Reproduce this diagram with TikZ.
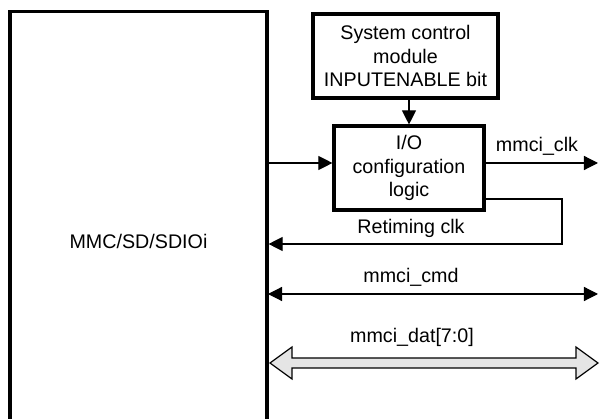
\documentclass[tikz,border=0pt]{standalone}
\usepackage{fontspec}
\setmainfont{Liberation Sans}
\usetikzlibrary{arrows.meta, positioning, calc}

\begin{document}
\begin{tikzpicture}[
    x=0.025cm, y=-0.025cm,
    font=\fontsize{14}{16.5}\selectfont,
    block/.style={rectangle, draw, line width=2.2pt, align=center, inner sep=0pt},
    wire/.style={line width=0.85pt, -{Triangle[length=10pt, width=10pt]}},
    biwire/.style={line width=0.85pt, {Triangle[length=10pt, width=10pt]}-{Triangle[length=10pt, width=10pt]}},
    bus/.style={line width=0.85pt, draw, fill=black!10, line join=miter}
]
\useasboundingbox (0,0) rectangle (600,419);

% blocks
\node[block, minimum width=6.425cm, minimum height=11.45cm] (mmc) at (138.5,241) {MMC/SD/SDIOi};
\node[block, minimum width=4.625cm, minimum height=2.1cm] (sys) at (405.5,56)
    {System control\\module\\INPUTENABLE bit};
\node[block, minimum width=3.75cm, minimum height=2.1cm] (io) at (409,168)
    {I/O\\configuration\\logic};

% free ends
\coordinate (clkR) at (598,163);
\coordinate (rt) at (562,244);
\coordinate (cmdL) at (268,294);
\coordinate (cmdR) at (598,294);
\coordinate (datL) at (270,363);
\coordinate (datR) at (598,363);

% connectors
\draw[wire] (io.north |- sys.south) -- (io.north);
\draw[wire] ($(mmc.east |- io.west)+(0,-5)$) -- ($(io.west)+(0,-5)$);
\draw[wire] ($(io.east)+(0,-5)$) -- (clkR);
\draw[wire] ($(io.east)+(0,31)$) -| (rt) -- (mmc.east |- rt);
\draw[biwire] (cmdL) -- (cmdR);
\draw[bus] (datL) -- ++(22,-16) -- ++(0,11) -- ($(datR)+(-22,-5)$) -- ++(0,-11) -- (datR)
    -- ++(-22,16) -- ++(0,-11) -- ($(datL)+(22,5)$) -- ++(0,11) -- cycle;

% labels
\node (clklbl) at (537,146) {mmci\_clk};
\node (rtlbl) at (411,228) {Retiming clk};
\node (cmdlbl) at (411,277) {mmci\_cmd};
\node (datlbl) at (412,337) {mmci\_dat[7:0]};

\end{tikzpicture}
\end{document}
